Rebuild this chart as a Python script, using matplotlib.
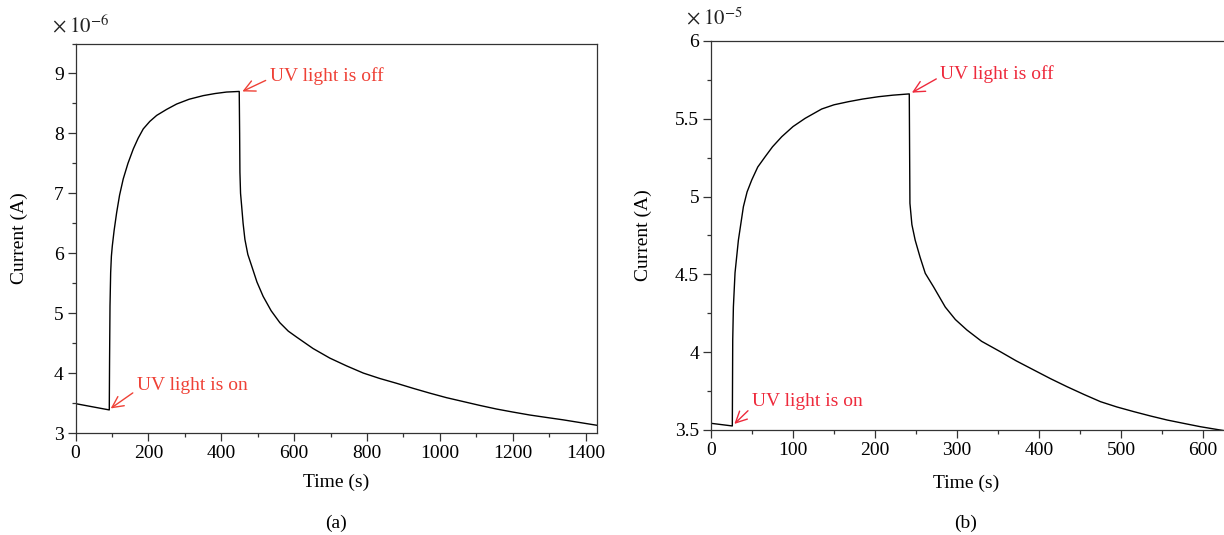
import matplotlib
matplotlib.use('Agg')
import matplotlib.pyplot as plt
from matplotlib.ticker import MultipleLocator, FuncFormatter

plt.rcParams['font.family'] = ['Liberation Serif', 'DejaVu Serif']
plt.rcParams['mathtext.fontset'] = 'stix'
plt.rcParams['font.size'] = 14

# panel (a): time (s) and current (x 1e-6 A)
time_a = [0, 92.7, 93.5, 94.7, 96.5, 98.5, 101, 106, 113, 121, 131, 144,
          158.6, 172, 186, 204, 222.8, 250, 277.6, 312, 350.6, 383, 414.8,
          449.4, 450.5, 451.3, 453, 456, 460, 465, 473, 483.4, 498, 515, 537,
          561, 584, 607, 652, 698, 744, 790, 835, 881, 927, 972.6, 1018, 1064,
          1110, 1155.6, 1200, 1247, 1292, 1338, 1384, 1430]
current_a = [3.49, 3.385, 4.2, 5.12, 5.675, 5.95, 6.12, 6.38, 6.68, 6.97,
             7.24, 7.50, 7.74, 7.92, 8.075, 8.20, 8.30, 8.40, 8.49, 8.57,
             8.63, 8.665, 8.69, 8.70, 8.0, 7.35, 7.0, 6.79, 6.50, 6.23, 5.98,
             5.79, 5.52, 5.28, 5.04, 4.84, 4.70, 4.60, 4.41, 4.25, 4.12, 4.0,
             3.91, 3.83, 3.745, 3.665, 3.59, 3.525, 3.46, 3.40, 3.35, 3.30,
             3.26, 3.22, 3.175, 3.13]

# panel (b): time (s) and current (x 1e-5 A)
time_b = [0, 26, 26.5, 27.3, 29.3, 33.4, 39.5, 44, 49.7, 57, 66, 75, 86.3,
          100, 114.8, 135, 150, 167.6, 185, 204.3, 222, 241.8, 242.2, 242.6,
          245, 249, 255, 261.3, 271.4, 285.7, 298, 312, 330, 352.9, 372,
          393.5, 414, 434.3, 455, 475, 495, 515.6, 536, 556.4, 577, 597, 625.5]
current_b = [3.543, 3.526, 4.08, 4.29, 4.51, 4.72, 4.935, 5.03, 5.107, 5.19,
             5.256, 5.32, 5.385, 5.45, 5.503, 5.563, 5.59, 5.61, 5.627, 5.642,
             5.652, 5.66, 5.3, 4.957, 4.82, 4.72, 4.61, 4.507, 4.42, 4.29,
             4.21, 4.143, 4.07, 4.003, 3.945, 3.886, 3.83, 3.778, 3.728, 3.682,
             3.648, 3.618, 3.59, 3.564, 3.542, 3.521, 3.496]

red_a = '#ef4136'
red_b = '#ee2a3c'

fig = plt.figure(figsize=(12.24, 5.35), dpi=100)
ax1 = fig.add_axes([75.5 / 1224, 102 / 535, 521 / 1224, 389.5 / 535])
ax2 = fig.add_axes([711 / 1224, 105 / 535, 512.5 / 1224, 389 / 535])


def style(ax):
    for s in ax.spines.values():
        s.set_color('#333333')
        s.set_linewidth(0.9)
    ax.tick_params(which='both', direction='out', top=False, right=False,
                   color='#333333', width=0.9, labelsize=14, pad=3)
    ax.tick_params(which='major', length=5.5)
    ax.tick_params(which='minor', length=3)
    ax.yaxis.set_major_formatter(FuncFormatter(lambda v, p: f'{v:g}'))
    ax.xaxis.set_major_formatter(FuncFormatter(lambda v, p: f'{v:g}'))


def arrow(color, rel):
    return dict(arrowstyle='->', color=color, lw=1, shrinkA=1, shrinkB=0,
                relpos=rel, mutation_scale=20)


# --- (a) ---
ax1.plot(time_a, current_a, color='black', lw=1.0)
ax1.set_xlim(0, 1430)
ax1.set_ylim(3, 9.5)
ax1.xaxis.set_major_locator(MultipleLocator(200))
ax1.xaxis.set_minor_locator(MultipleLocator(100))
ax1.yaxis.set_major_locator(MultipleLocator(1))
ax1.yaxis.set_minor_locator(MultipleLocator(0.5))
style(ax1)
ax1.set_xlabel('Time (s)')
ax1.set_ylabel('Current (A)')
ax1.xaxis.set_label_coords(0.5, -0.105)
ax1.yaxis.set_label_coords(-0.092, 0.5)

ax1.annotate('UV light is off', xy=(458, 8.70), xytext=(533, 8.96),
             color=red_a, ha='left', va='center', fontsize=14,
             arrowprops=arrow(red_a, (0, 0.35)))
ax1.annotate('UV light is on', xy=(96.6, 3.41), xytext=(168, 3.80),
             color=red_a, ha='left', va='center', fontsize=14,
             arrowprops=arrow(red_a, (0, 0.2)))

# --- (b) ---
ax2.plot(time_b, current_b, color='black', lw=1.0)
ax2.set_xlim(0, 625)
ax2.set_ylim(3.5, 6)
ax2.xaxis.set_major_locator(MultipleLocator(100))
ax2.xaxis.set_minor_locator(MultipleLocator(50))
ax2.yaxis.set_major_locator(MultipleLocator(0.5))
ax2.yaxis.set_minor_locator(MultipleLocator(0.25))
style(ax2)
ax2.spines['right'].set_visible(False)
ax2.set_xlabel('Time (s)')
ax2.set_ylabel('Current (A)')
ax2.xaxis.set_label_coords(0.4976, -0.115)
ax2.yaxis.set_label_coords(-0.115, 0.5)

ax2.annotate('UV light is off', xy=(245, 5.668), xytext=(279.6, 5.788),
             color=red_b, ha='left', va='center', fontsize=14,
             arrowprops=arrow(red_b, (0, 0.35)))
ax2.annotate('UV light is on', xy=(28.5, 3.539), xytext=(49.7, 3.68),
             color=red_b, ha='left', va='center', fontsize=14,
             arrowprops=arrow(red_b, (0, 0.2)))

# scale factors and panel captions
fig.text(52 / 1224, (535 - 32) / 535, r'$\times\;10^{-6}$', fontsize=15,
         va='baseline', ha='left', color='#222222')
fig.text(686 / 1224, (535 - 24) / 535, r'$\times\;10^{-5}$', fontsize=15,
         va='baseline', ha='left', color='#222222')
fig.text(336 / 1224, 12 / 535, '(a)', ha='center', va='center', fontsize=14)
fig.text(966 / 1224, 12 / 535, '(b)', ha='center', va='center', fontsize=14)

fig.savefig('out.png', dpi=100)
